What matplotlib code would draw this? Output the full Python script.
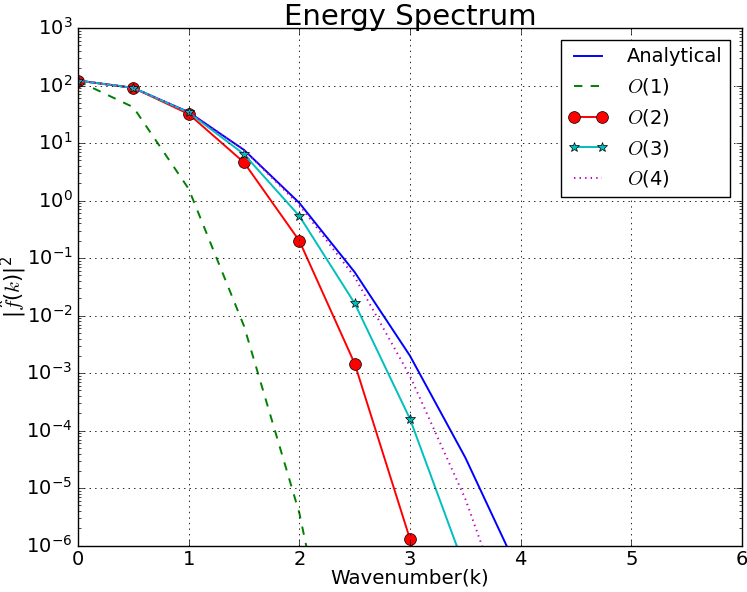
import matplotlib
matplotlib.use('Agg')
import matplotlib.pyplot as plt

plt.style.use('classic')
plt.rcParams['mathtext.fontset'] = 'custom'
plt.rcParams['mathtext.rm'] = 'DejaVu Sans'
plt.rcParams['mathtext.it'] = 'cmmi10'
plt.rcParams['lines.linewidth'] = 1.4

# wavenumbers (samples every 0.5)
k = [0.0, 0.5, 1.0, 1.5, 2.0, 2.5, 3.0, 3.5, 4.0]

# |f(k)|^2
analytical = [122, 91, 34.5, 7.6, 0.91, 0.057, 2.0e-3, 3.4e-5, 3.0e-7]
order1     = [120, 42, 1.6, 6.6e-3, 3.7e-6, 1e-10, 1e-16, 1e-22, 1e-30]
order2     = [122, 91, 32, 4.6, 0.2, 1.47e-3, 1.3e-6, 1e-9, 1e-13]
order3     = [122, 91, 34, 6.4, 0.54, 0.0164, 1.6e-4, 3.9e-7, 1e-10]
order4     = [122, 91, 34.5, 7.6, 0.84, 0.047, 8.9e-4, 6.5e-6, 1.3e-8]

fig = plt.figure(figsize=(7.47, 5.92), dpi=100)
ax = fig.add_axes([0.1044, 0.0782, 0.8889, 0.8745])

ax.semilogy(k, analytical, 'b-', label='Analytical')
ax.semilogy(k, order1, 'g--', label='$O(1)$')
ax.semilogy(k, order2, 'ro-', markersize=8.5, label='$O(2)$')
ax.semilogy(k, order3, 'c*-', markersize=7, label='$O(3)$')
ax.semilogy(k, order4, 'm:', label='$O(4)$')

ax.set_xlim(0, 6)
ax.set_ylim(1e-6, 1e3)
ax.grid(True, linewidth=0.6)
ax.tick_params(labelsize=14)
ax.tick_params(axis='x', pad=3)

ax.set_title('Energy Spectrum', fontsize=21, pad=2)
ax.set_xlabel('Wavenumber(k)', fontsize=14.3, labelpad=0)
ax.set_ylabel(r'$|\hat{f}(k)|^2$', fontsize=15)
ax.yaxis.set_label_coords(-0.075, 0.5)
ax.legend(loc='upper right', fontsize=14, handlelength=2.0, handletextpad=1.0,
          borderaxespad=0.6)

fig.savefig('out.png', dpi=100)
